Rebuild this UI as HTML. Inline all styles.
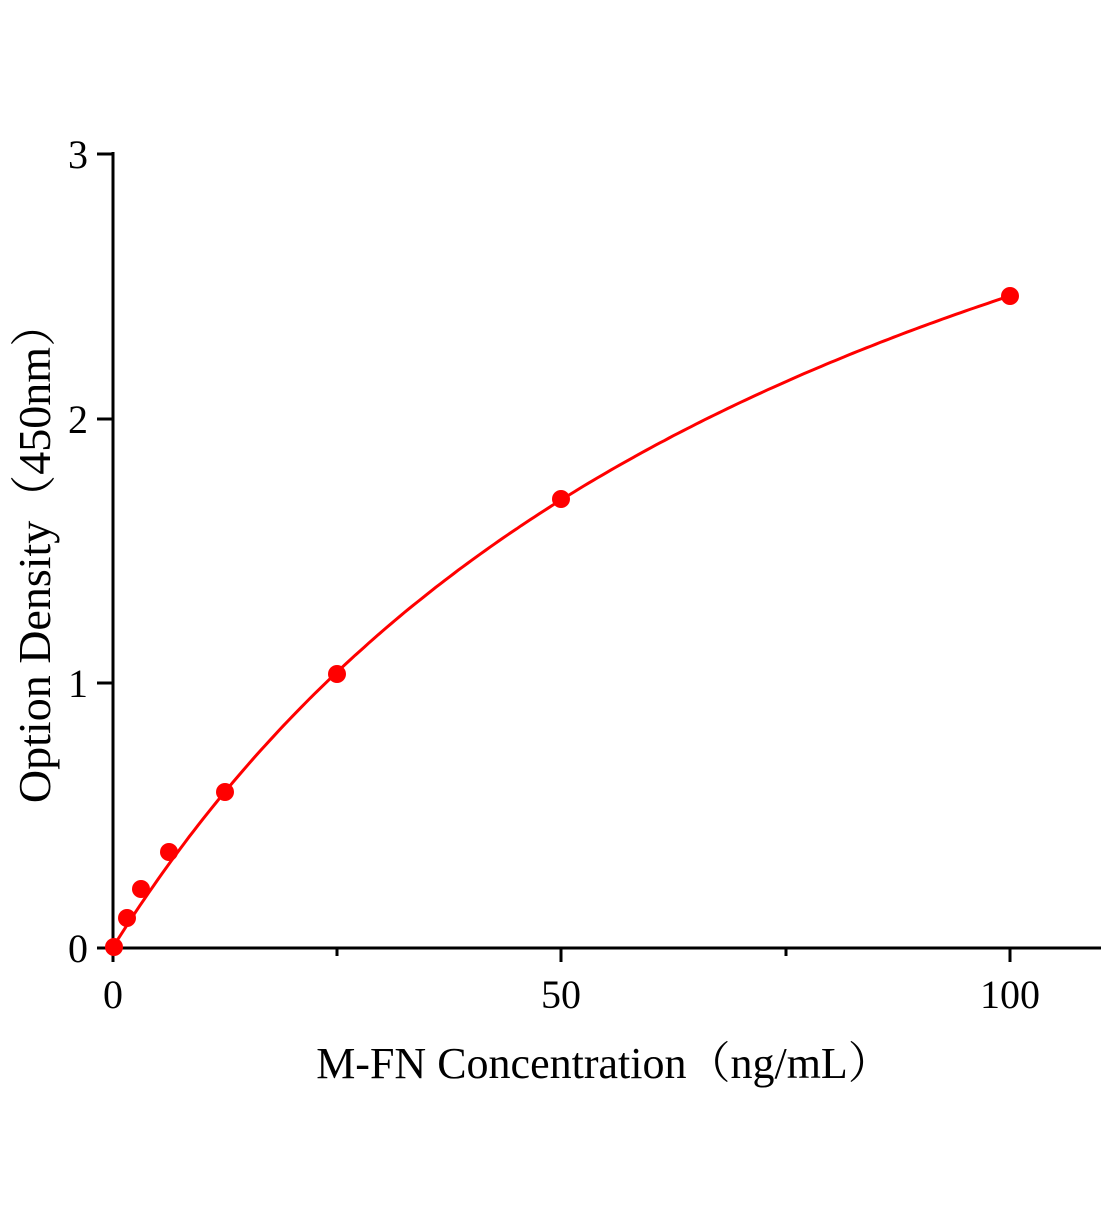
<!DOCTYPE html>
<html><head><style>body{margin:0;background:#fff}</style></head><body>
<svg width="1104" height="1200" xmlns="http://www.w3.org/2000/svg" font-family="Liberation Serif, serif">
<g stroke="#000" stroke-width="3" fill="none">
<line x1="113" y1="152" x2="113" y2="962"/>
<line x1="97" y1="948" x2="1101" y2="948"/>
<line x1="97" y1="154" x2="113" y2="154"/>
<line x1="97" y1="419" x2="113" y2="419"/>
<line x1="97" y1="683" x2="113" y2="683"/>
<line x1="561" y1="948" x2="561" y2="962"/>
<line x1="1010" y1="948" x2="1010" y2="962"/>
<line x1="337" y1="948" x2="337" y2="956"/>
<line x1="786" y1="948" x2="786" y2="956"/>
</g>
<g font-size="40" fill="#000" text-anchor="end">
<text x="88" y="168">3</text><text x="88" y="433">2</text><text x="88" y="697">1</text><text x="88" y="962">0</text>
</g>
<g font-size="40" fill="#000" text-anchor="middle">
<text x="113" y="1008">0</text><text x="561" y="1008">50</text><text x="1010" y="1008">100</text>
</g>
<text x="604" y="1078" font-size="44" text-anchor="middle" font-family="Liberation Serif, Noto Serif CJK SC, serif">M-FN Concentration（ng/mL）</text>
<text transform="translate(50,552) rotate(-90)" font-size="46" text-anchor="middle" font-family="Liberation Serif, Noto Serif CJK SC, serif">Option Density（450nm）</text>
<path id="c" fill="none" stroke="#f00" stroke-width="3"/>
<g fill="#f00" id="pts"></g>
</svg>
<script>
var d="";
for(var c=0;c<=100;c+=0.5){var od=4.519*c/(83.7+c);var x=113+8.97*c,y=947-264.7*od;d+=(c==0?"M":"L")+x.toFixed(1)+","+y.toFixed(1);}
document.getElementById("c").setAttribute("d",d);
var p=[[114,947],[127,918],[141,889],[169,852],[225,792],[337,674],[561,499],[1010,296]];
var g=document.getElementById("pts");
p.forEach(function(q){var ci=document.createElementNS("http://www.w3.org/2000/svg","circle");ci.setAttribute("cx",q[0]);ci.setAttribute("cy",q[1]);ci.setAttribute("r",9);g.appendChild(ci);});
</script>
</body></html>
